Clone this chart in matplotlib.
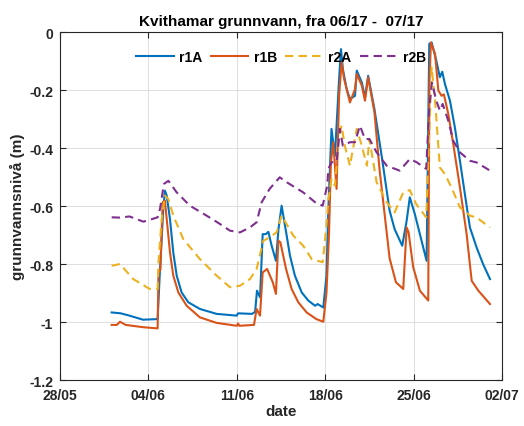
import numpy as np
import pandas as pd
import matplotlib
matplotlib.use("Agg")
import matplotlib.pyplot as plt
import matplotlib.dates as mdates

# ── Data (days after 28/05/2017, level in m) ─────────────────────────────────
start = pd.Timestamp("2017-05-28")

r1A_day = [4.09, 4.8, 5.5, 6.57, 7.73, 7.92, 8.18, 8.31, 8.45, 8.71, 8.97, 9.24, 9.63, 10.16,
           11.08, 12.4, 14.0, 14.1, 15.2, 15.45, 15.6, 15.84, 16.05, 16.3, 16.5, 16.76, 17.1,
           17.3, 17.55, 17.95, 18.21, 18.6, 19.14, 19.66, 20.2, 20.4, 20.85, 21.1, 21.25, 21.5,
           21.77, 22.1, 22.25, 22.4, 22.7, 22.96, 23.36, 23.5, 23.9, 24.15, 24.4, 24.9, 25.47,
           26.1, 26.5, 27.1, 27.45, 27.7, 28.1, 29.03, 29.24, 29.43, 29.8, 30.08, 30.27, 30.48,
           30.88, 31.27, 31.67, 32.06, 32.46, 32.99, 33.5, 34.05]
r1A_val = [-0.967, -0.970, -0.978, -0.992, -0.990, -0.817, -0.610, -0.547, -0.564, -0.645,
           -0.760, -0.840, -0.898, -0.932, -0.955, -0.972, -0.978, -0.970, -0.972, -0.965,
           -0.892, -0.915, -0.697, -0.697, -0.689, -0.737, -0.789, -0.680, -0.599, -0.702,
           -0.771, -0.840, -0.898, -0.926, -0.944, -0.938, -0.950, -0.840, -0.610, -0.334,
           -0.427, -0.162, -0.059, -0.128, -0.197, -0.231, -0.220, -0.133, -0.174, -0.226,
           -0.151, -0.266, -0.427, -0.616, -0.680, -0.737, -0.651, -0.570, -0.628, -0.789,
           -0.041, -0.036, -0.099, -0.156, -0.137, -0.179, -0.237, -0.329, -0.444, -0.559,
           -0.674, -0.743, -0.800, -0.852]

r1B_day = [4.09, 4.5, 4.75, 5.2, 6.6, 7.73, 7.8, 7.95, 8.13, 8.31, 8.45, 8.71, 8.97, 9.37,
           10.03, 11.08, 12.4, 14.0, 14.1, 14.2, 15.36, 15.57, 15.84, 16.05, 16.4, 16.85, 17.1,
           17.29, 17.45, 17.9, 18.34, 18.87, 19.53, 20.3, 20.85, 21.1, 21.3, 21.45, 21.64, 21.9,
           22.1, 22.3, 22.5, 22.96, 23.36, 23.5, 23.9, 24.15, 24.4, 24.9, 25.3, 26.1, 26.6,
           27.18, 27.45, 27.6, 27.97, 28.5, 29.16, 29.25, 29.37, 29.7, 29.96, 30.22, 30.4,
           30.75, 31.14, 31.67, 32.2, 32.6, 33.13, 34.05]
r1B_val = [-1.010, -1.010, -0.999, -1.010, -1.018, -1.022, -0.829, -0.820, -0.587, -0.582,
           -0.645, -0.760, -0.840, -0.898, -0.944, -0.984, -1.003, -1.013, -1.005, -1.013,
           -1.010, -0.955, -0.978, -0.829, -0.817, -0.863, -0.903, -0.720, -0.725, -0.817,
           -0.886, -0.932, -0.967, -0.990, -0.999, -0.900, -0.700, -0.449, -0.380, -0.541,
           -0.220, -0.105, -0.162, -0.243, -0.197, -0.145, -0.185, -0.237, -0.156, -0.277,
           -0.472, -0.780, -0.863, -0.886, -0.674, -0.690, -0.811, -0.892, -0.926, -0.179,
           -0.036, -0.076, -0.202, -0.220, -0.215, -0.283, -0.386, -0.536, -0.697, -0.858,
           -0.892, -0.938]

r2A_day = [4.09, 4.75, 5.8, 7.1, 7.73, 7.8, 8.05, 8.31, 8.58, 8.97, 9.76, 11.08, 12.4, 13.46,
           14.25, 15.04, 15.57, 16.1, 16.6, 17.15, 17.55, 18.47, 19.26, 19.93, 20.8, 21.1,
           21.25, 21.5, 21.77, 22.1, 22.3, 22.55, 22.96, 23.2, 23.5, 23.9, 24.3, 24.5, 25.07,
           25.87, 26.5, 27.18, 27.7, 28.2, 29.0, 29.24, 29.43, 29.7, 30.08, 30.48, 31.0, 31.67,
           32.46, 33.0, 34.05]
r2A_val = [-0.806, -0.800, -0.852, -0.886, -0.886, -0.794, -0.645, -0.564, -0.576, -0.633,
           -0.714, -0.783, -0.840, -0.880, -0.875, -0.852, -0.817, -0.720, -0.708, -0.691,
           -0.633, -0.702, -0.737, -0.783, -0.794, -0.668, -0.580, -0.507, -0.530, -0.358,
           -0.323, -0.392, -0.461, -0.403, -0.334, -0.392, -0.461, -0.369, -0.518, -0.587,
           -0.622, -0.553, -0.545, -0.593, -0.639, -0.352, -0.122, -0.237, -0.467, -0.490,
           -0.536, -0.605, -0.633, -0.640, -0.674]

r2B_day = [4.09, 4.75, 5.5, 6.6, 7.3, 7.73, 7.92, 8.23, 8.58, 9.24, 10.29, 11.6, 12.67, 13.46,
           14.25, 15.04, 15.57, 15.97, 16.6, 17.4, 17.95, 19.26, 20.2, 20.8, 21.16, 21.25, 21.5,
           21.9, 22.16, 22.4, 22.96, 23.36, 23.75, 24.15, 24.5, 25.07, 25.87, 26.9, 27.7, 28.24,
           29.0, 29.24, 29.45, 29.8, 30.08, 30.3, 30.75, 31.14, 31.67, 32.46, 33.0, 34.05]
r2B_val = [-0.639, -0.640, -0.636, -0.654, -0.645, -0.639, -0.610, -0.524, -0.513, -0.553,
           -0.599, -0.633, -0.662, -0.685, -0.691, -0.674, -0.656, -0.587, -0.541, -0.501,
           -0.518, -0.553, -0.587, -0.599, -0.530, -0.472, -0.449, -0.449, -0.334, -0.392,
           -0.380, -0.380, -0.323, -0.369, -0.369, -0.415, -0.461, -0.478, -0.438, -0.449,
           -0.472, -0.260, -0.174, -0.237, -0.271, -0.248, -0.306, -0.375, -0.415, -0.444,
           -0.450, -0.478]

series = [
    ("r1A", r1A_day, r1A_val, "#0072BD", "-"),
    ("r1B", r1B_day, r1B_val, "#D95319", "-"),
    ("r2A", r2A_day, r2A_val, "#EDB120", (0, (4, 2.5))),
    ("r2B", r2B_day, r2B_val, "#7E2F8E", (0, (4, 2.5))),
]

tick_days = [0, 7, 14, 21, 28, 35]
y_ticks = [0, -0.2, -0.4, -0.6, -0.8, -1.0, -1.2]
y_labels = ["0", "-0.2", "-0.4", "-0.6", "-0.8", "-1", "-1.2"]

# ── Style ────────────────────────────────────────────────────────────────────
plt.rcParams.update({
    "font.family": ["Liberation Sans", "DejaVu Sans"],
    "font.weight": "bold",
    "axes.labelweight": "bold",
    "axes.titleweight": "bold",
})

fig = plt.figure(figsize=(5.24, 4.27), dpi=100, facecolor="white")
ax = fig.add_axes([0.1145, 0.1077, 0.8435, 0.815])

for name, d, v, col, ls in series:
    t = start + pd.to_timedelta(d, unit="D")
    ax.plot(t, v, color=col, linestyle=ls, linewidth=1.5, label=name)

ax.set_xlim(start, start + pd.Timedelta(days=35))
ax.set_ylim(-1.2, 0)
ax.set_xticks([start + pd.Timedelta(days=k) for k in tick_days])
ax.xaxis.set_major_formatter(mdates.DateFormatter("%d/%m"))
ax.set_yticks(y_ticks)
ax.set_yticklabels(y_labels)

ax.grid(True, color="#d9d9d9", linewidth=0.6)
ax.set_axisbelow(True)
ax.tick_params(direction="in", top=True, right=True, length=4, width=0.8,
               labelsize=10, colors="#262626")
ax.tick_params(axis="x", pad=6)
ax.tick_params(axis="y", pad=5)
for s in ax.spines.values():
    s.set_color("#262626")
    s.set_linewidth(0.8)

ax.set_title("Kvithamar grunnvann, fra 06/17 -  07/17", fontsize=11, color="black", pad=5)
ax.set_xlabel("date", fontsize=11, color="#262626", labelpad=1)
ax.set_ylabel("grunnvannsnivå (m)", fontsize=11, color="#262626", labelpad=3)

ax.legend(loc="upper center", bbox_to_anchor=(0.5, 0.985), ncol=4, frameon=False,
          fontsize=10, handlelength=2.7, columnspacing=0.6, handletextpad=0.4)

fig.savefig("out.png", dpi=100, facecolor="white")
